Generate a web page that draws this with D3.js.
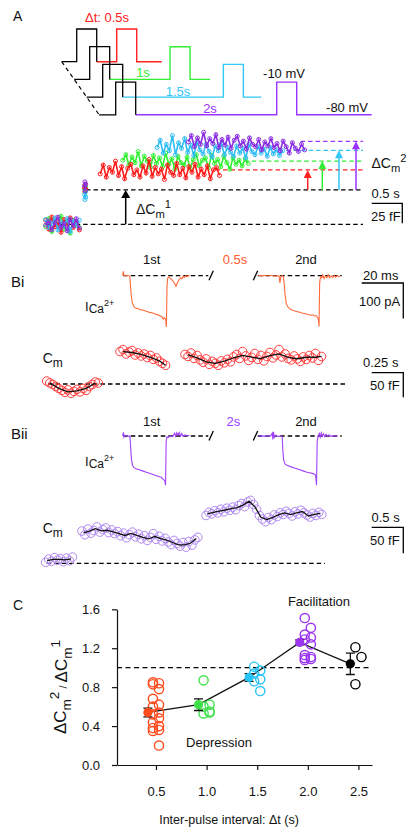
<!DOCTYPE html>
<html>
<head>
<meta charset="utf-8">
<script src="https://cdn.jsdelivr.net/npm/d3@7"></script>
<style>
  body { margin: 0; background: #fff; }
  text { font-family: "Liberation Sans", Arial, Helvetica, sans-serif; fill: #111; }
</style>
</head>
<body>
<div id="fig"></div>
<script>
// ---------- Data ----------
// Panel A: voltage protocol
const protoIntervals = [0.5, 1, 1.5, 2];            // s
const protoLabels = ['\u0394t: 0.5s', '1s', '1.5s', '2s'];

// Panel A: Cm traces (fF, relative to baseline)
const baseRedA = [5, -6, 9, -3, 2, -10, 6, -1, 8, -4, 3, -7];
const baseGreenA = [-3, 7, -9, 4, -1, 10, -6, 2, -11, 5, 0, -4];
const baseCyanA = [6, -4, 1, 8, -7, 3, -2, 7, -9, 4, -1, 5];
const basePurpleA = [-1, 4, -7, 2, 9, -4, 1, -8, 6, -2, 7, -5];
const blobRedA = [46, 41, 50, 44];
const blobGreenA = [44, 49, 40, 46];
const blobCyanA = [37, 31, 41, 34];
const blobPurpleA = [48, 53, 42, 50];
const stepRedA = [63, 74, 59, 71, 65, 79, 61, 72, 57, 70, 75, 62, 68, 59, 73, 64, 81, 60, 71, 63,
                  69, 56, 74, 65, 61, 76, 62, 70, 58, 72, 65, 75, 59, 69, 62, 73, 57, 68, 71, 61];
const stepGreenA = [80, 87, 74, 84, 77, 91, 73, 85, 79, 71, 86, 76, 83, 72, 89, 75, 82, 69, 85, 77, 74,
                    84, 70, 81, 87, 73, 80, 83, 71, 86, 76, 81, 72, 85, 77, 69, 83, 75, 80, 73, 82, 76];
const stepCyanA = [96, 105, 89, 100, 92, 111, 87, 102, 95, 107, 90, 99, 86, 103, 93, 88, 100, 91, 84, 98, 92,
                   101, 87, 96, 90, 85, 98, 89, 95, 83, 100, 91, 87, 97, 89, 94, 85, 96, 88, 93, 86, 92];
const stepPurpleA = [103, 111, 97, 108, 100, 115, 98, 107, 101, 112, 96, 106, 99, 109, 95, 105, 110, 98, 104, 94,
                     108, 100, 97, 106, 93, 103, 98, 107, 96, 101, 92, 104, 97, 89, 102, 95, 91, 100, 93];
const stepStartA = [0.89, 1.26, 1.82, 2.33];         // s
const firstStepA = 43;                               // fF
const secondLevelA = [68, 79, 92.5, 103.7];          // fF

// Panel B: calcium currents [ms, pA]
const iBi1 = [[0,0],[0.3,12],[0.6,2],[1.2,-1],[2,1],[2.8,0],[3.4,-1],[3.7,-25],[4.1,-55],[4.6,-75],[5.3,-86],[6,-90],
  [7,-92],[8,-94],[9,-96],[10,-97],[11,-99],[12,-101],[13,-103],[14,-104],[15,-106],[16,-108],[17,-110],[18,-113],
  [19,-116],[19.5,-122],[20,-118],[20.6,-121],[21,-144],[21.3,-30],[21.6,-8],[22,-3],[23,-8],[24,-14],[25,-22],
  [25.6,-30],[26.3,-20],[27,-12],[27.8,-6],[28.4,-9],[29,-2],[29.6,-5],[30.3,0],[31,-3],[31.6,1],[32.2,-1]];
const iBi2 = [[0,0],[1,1],[2,-1],[3,1],[4,0],[5,-1],[6,1],[7,0],[8,-1],[9,0],[10,-1],[10.4,-20],[10.8,-3],[11.5,0],
  [12,-1],[12.4,-20],[12.9,-55],[13.5,-80],[14.5,-90],[15.5,-94],[16.5,-97],[18,-100],[19.5,-102],[21,-105],
  [22.5,-107],[24,-109],[25,-111],[26,-110],[27,-113],[27.8,-112],[28.3,-117],[28.8,-120],[29.2,-143],[29.5,-20],
  [29.9,-3],[30.5,-6],[31,2],[31.6,-8],[32.2,-1],[33,-5],[33.6,3],[34.3,-6],[35,-1],[35.8,-5],[36.5,1],[37.2,-4],
  [38,0],[38.6,-3],[39.2,-1]];
const iBii1 = [[0,0],[0.3,10],[0.6,-3],[1,2],[2,0],[3,-1],[3.5,0],[3.8,-30],[4.2,-65],[4.7,-82],[5.4,-89],[6.5,-92],
  [8,-95],[9.5,-98],[11,-101],[12.5,-104],[14,-107],[15.5,-110],[17,-113],[18.5,-116],[19.5,-122],[20.2,-125],
  [20.6,-138],[20.9,-15],[21.3,-2],[22,-4],[23,1],[24,-2],[25,8],[25.5,-1],[26,9],[26.6,2],[27.2,10],[27.8,0],
  [28.4,7],[29,-1],[30,3],[31,0],[32,2]];
const iBii2 = [[0,0],[1.5,1],[3,-1],[4.5,1],[6,0],[6.7,8],[7,-10],[7.3,12],[7.7,-4],[8.2,2],[9,0],[10,-1],[11,0],
  [11.5,-2],[11.8,-40],[12.2,-68],[12.9,-79],[14,-83],[15.5,-86],[17,-89],[18.5,-92],[20,-95],[21.5,-98],[23,-101],
  [24.5,-103],[26,-105],[27.2,-108],[27.6,-112],[28,-138],[28.3,-15],[28.7,-2],[29.3,7],[29.8,-3],[30.3,9],
  [30.8,-1],[31.4,6],[32,-2],[32.6,5],[33.2,0],[34,3],[35,-1],[36,1],[37,0],[38,1]];

// Panel B: capacitance samples (fF)
const cmBi1 = [6, 2, -1, -5, -9, -13, -17, -12, -19, -15, -11, -16, -9, -13, -5, -1, 4, 2];
const cmBi2 = [66, 70, 61, 65, 68, 59, 63, 57, 61, 54, 58, 50, 53, 46, 42, 38];
const cmBi3 = [60, 56, 63, 52, 58, 49, 44, 51, 40, 46, 42, 38, 47, 43, 50, 45, 55, 60, 52, 66, 57, 48, 54,
               62, 50, 58, 47, 56, 64, 53, 59, 70, 55, 61, 52, 49, 57, 51, 46, 55, 50, 58, 53, 62, 48, 56];
const cmBiStart = [0, 0.58, 1.094];                  // s
const cmBii1 = [2, 8, 4, 11, 6, 9, 3, 10, 5, 12];
const cmBii2 = [62, 55, 66, 58, 63, 70, 60, 65, 68, 59, 64, 57, 61, 53, 58, 49, 55, 60, 51, 56,
                47, 53, 44, 50, 57, 46, 52, 43, 48, 41, 36, 44, 38, 33, 40, 31, 42, 35, 45, 50];
const cmBii3 = [92, 98, 95, 101, 97, 104, 99, 106, 102, 108, 103, 111, 115, 109, 118, 121, 113, 104, 92, 85,
                80, 88, 84, 93, 90, 97, 94, 100, 96, 91, 99, 95, 102, 97, 93, 89, 96, 92, 98, 94];
const cmBiiStart = [0, 0.574, 2.536];                // s

// Panel C: paired-pulse ratio
const intervals = [0.5, 1.0, 1.5, 2.0, 2.5];
const ratioMeans = [0.54, 0.62, 0.90, 1.26, 1.04];
const ratioSem = [0.045, 0.06, 0.04, 0.025, 0.11];
const ratio05 = [0.85, 0.84, 0.83, 0.78, 0.68, 0.62, 0.60, 0.54, 0.52, 0.48, 0.44, 0.40, 0.38, 0.36, 0.35, 0.20];
const ratio10 = [0.87, 0.62, 0.60, 0.54, 0.53, 0.55];
const ratio15 = [1.01, 0.97, 0.94, 0.88, 0.86, 0.76];
const ratio20 = [1.51, 1.41, 1.34, 1.31, 1.29, 1.24, 1.13, 1.11, 1.10, 1.09, 1.08];
const ratio25 = [1.21, 1.11, 0.83];
const yTicksC = [0, 0.4, 0.8, 1.2, 1.6];

// ---------- Setup ----------
const W = 406, H = 831;
const svg = d3.select('#fig').append('svg').attr('width', W).attr('height', H);
const protoColors = ['#ff2020', '#33ee33', '#33c6f7', '#9933ff'];
const traceColors = ['#ff1a1a', '#2ef02e', '#2ebcf5', '#8a2be2'];
const cColors = ['#ff4a1c', '#3ee04a', '#29c3f5', '#9b35f0', '#000'];
const line = d3.line();

function txt(x, y, s, size, opts = {}) {
    return svg.append('text').attr('x', x).attr('y', y).attr('font-size', size)
        .attr('text-anchor', opts.anchor || 'start')
        .style('fill', opts.color || '#111')
        .text(s);
}

function dashed(x1, x2, y, color = '#000') {
    svg.append('line').attr('x1', x1).attr('x2', x2).attr('y1', y).attr('y2', y)
        .attr('stroke', color).attr('stroke-width', 1.3).attr('stroke-dasharray', '4.5,3');
}

// ΔCm with subscript m and a superscript
function deltaCm(sel, sup, fs) {
    sel.append('tspan').text('\u0394C');
    sel.append('tspan').attr('font-size', fs * 0.8).attr('dy', fs * 0.3).text('m');
    sel.append('tspan').attr('font-size', fs * 0.8).attr('dy', -fs * 0.72).text(sup);
}

function scaleBar(x1, x2, y, y2) {
    svg.append('path').attr('d', `M${x1},${y}H${x2}V${y2}`)
        .attr('fill', 'none').attr('stroke', '#000').attr('stroke-width', 1.3);
}

function arrow(x, y1, y2, color, w) {
    svg.append('line').attr('x1', x).attr('x2', x).attr('y1', y1).attr('y2', y2 + 6)
        .attr('stroke', color).attr('stroke-width', 1.5);
    svg.append('path').attr('d', `M${x - w / 2},${y2 + 8}L${x},${y2}L${x + w / 2},${y2 + 8}Z`)
        .attr('fill', color);
}

// ---------- Panel A: protocol ----------
txt(13, 21, 'A', 14);
const gapX = d3.scaleLinear().domain([0.5, 2]).range([20, 141]);
const tailLen = [25, 20, 18, 75];
protoIntervals.forEach((dt, i) => {
    const base = 61.7 + i * 17.7;
    const top = base - 32.7;
    const start = 61.7 + i * 12.5;
    const p1 = 76.7 + i * 13;
    const p2 = p1 + 20 + gapX(dt);
    svg.append('path')
        .attr('d', line([[p1 + 20, base], [p2, base], [p2, top], [p2 + 20, top], [p2 + 20, base], [p2 + 20 + tailLen[i], base]]))
        .attr('fill', 'none').attr('stroke', protoColors[i]).attr('stroke-width', 1.4);
    svg.append('path')
        .attr('d', line([[start, base], [p1, base], [p1, top], [p1 + 20, top], [p1 + 20, base]]))
        .attr('fill', 'none').attr('stroke', '#000').attr('stroke-width', 1.3);
});
svg.append('line').attr('x1', 61.7).attr('y1', 61.7).attr('x2', 99.3).attr('y2', 115)
    .attr('stroke', '#000').attr('stroke-width', 1.2).attr('stroke-dasharray', '4,3.5');
txt(85, 21.5, protoLabels[0], 13, { color: protoColors[0] });
txt(143, 77.3, protoLabels[1], 13, { anchor: 'middle', color: protoColors[1] });
txt(178, 95.5, protoLabels[2], 13, { anchor: 'middle', color: protoColors[2] });
txt(210, 112.7, protoLabels[3], 13, { anchor: 'middle', color: protoColors[3] });
txt(284, 78.3, '-10 mV', 13, { anchor: 'middle' });
txt(347, 112.3, '-80 mV', 13, { anchor: 'middle' });

// ---------- Panel A: Cm steps ----------
const xA = d3.scaleLinear().domain([0, 1]).range([45.7, 106.9]);   // s
const yA = d3.scaleLinear().domain([0, 25]).range([224.3, 204.3]); // fF
const tracesA = [
    { base: baseRedA, blob: blobRedA, step: stepRedA },
    { base: baseGreenA, blob: blobGreenA, step: stepGreenA },
    { base: baseCyanA, blob: blobCyanA, step: stepCyanA },
    { base: basePurpleA, blob: blobPurpleA, step: stepPurpleA }
];

// dashed reference levels first
dashed(45.7, 363, yA(0));
dashed(86, 363, yA(firstStepA));
secondLevelA.forEach((lv, i) => {
    const tEnd = stepStartA[i] + (tracesA[i].step.length - 1) * 0.05;
    dashed(xA(tEnd) - 4, 363, yA(lv), protoColors[i]);
});

function noisyTrace(vals, t0, dt, color) {
    const pts = vals.map((v, k) => [xA(t0 + k * dt), yA(v)]);
    svg.append('path').attr('d', line(pts)).attr('fill', 'none')
        .attr('stroke', color).attr('stroke-width', 1.6);
    svg.append('g').selectAll('circle').data(pts).join('circle')
        .attr('cx', d => d[0]).attr('cy', d => d[1]).attr('r', 2)
        .attr('fill', 'none').attr('stroke', color).attr('stroke-width', 1);
}
const drawOrder = [1, 0, 2, 3];
drawOrder.forEach(i => noisyTrace(tracesA[i].base, 0, 0.05, traceColors[i]));
drawOrder.forEach(i => noisyTrace(tracesA[i].blob, 0.635, 0.006, traceColors[i]));
drawOrder.forEach(i => noisyTrace(tracesA[i].step, stepStartA[i], 0.05, traceColors[i]));

// arrows
arrow(125.7, yA(0), yA(firstStepA), '#000', 9);
const arrowX = [307.7, 322.3, 339, 356];
secondLevelA.forEach((lv, i) => arrow(arrowX[i], yA(firstStepA), yA(lv), protoColors[i], 8));

deltaCm(svg.append('text').attr('x', 136).attr('y', 214).attr('font-size', 14), '1', 14);
deltaCm(svg.append('text').attr('x', 371.5).attr('y', 168).attr('font-size', 14), '2', 14);

txt(371.5, 198, '0.5 s', 13);
scaleBar(371.7, 371.7 + xA(0.5) - xA(0), 203.3, 203.3 + yA(0) - yA(25));
txt(371, 220.7, '25 fF', 13);

// ---------- Panel B helpers ----------
const xMs = d3.scaleLinear().domain([0, 20]).range([0, 41.6]);
function currentTrace(data, x0, y0, color) {
    const yI = d3.scaleLinear().domain([0, -100]).range([y0, y0 + 35.6]);
    svg.append('path').attr('d', line(data.map(d => [x0 + xMs(d[0]), yI(d[1])])))
        .attr('fill', 'none').attr('stroke', color).attr('stroke-width', 1.1);
}
function breakMarks(y) {
    dashed(123.3, 208.3, y);
    dashed(257.7, 341.7, y);
    [[209, 213.3], [253.3, 257.7]].forEach(([a, b]) => {
        svg.append('line').attr('x1', a).attr('y1', y + 4.5).attr('x2', b).attr('y2', y - 5)
            .attr('stroke', '#000').attr('stroke-width', 1.3);
    });
}
function iCaLabel(x, y) {
    const t = svg.append('text').attr('x', x).attr('y', y).attr('font-size', 13);
    t.append('tspan').text('I');
    t.append('tspan').attr('font-size', 12).attr('dy', 2.5).text('Ca');
    t.append('tspan').attr('font-size', 9).attr('dy', -7.5).text('2+');
}
function cmLabel(x, y) {
    const t = svg.append('text').attr('x', x).attr('y', y).attr('font-size', 14);
    t.append('tspan').text('C');
    t.append('tspan').attr('font-size', 12).attr('dy', 4).text('m');
}
function blockMean(vals, n) {
    const out = [];
    for (let i = 0; i < vals.length; i += n) {
        const s = vals.slice(i, i + n);
        out.push([i + (s.length - 1) / 2, d3.mean(s)]);
    }
    return out;
}
function cmClusters(clusters, starts, dt, xS, yS, color, block) {
    clusters.forEach((vals, c) => {
        svg.append('g').selectAll('circle').data(vals).join('circle')
            .attr('cx', (d, k) => xS(starts[c] + k * dt)).attr('cy', d => yS(d)).attr('r', 4.3)
            .attr('fill', 'none').attr('stroke', color).attr('stroke-width', 1);
    });
    clusters.forEach((vals, c) => {
        const m = blockMean(vals, block).map(d => [xS(starts[c] + d[0] * dt), yS(d[1])]);
        svg.append('path').attr('d', line(m)).attr('fill', 'none')
            .attr('stroke', '#111').attr('stroke-width', 1.3);
    });
}

// ---------- Panel Bi ----------
txt(11, 287, 'Bi', 15);
txt(151.7, 264, '1st', 13, { anchor: 'middle' });
txt(235, 264, '0.5s', 13, { anchor: 'middle', color: '#ff5a2a' });
txt(306, 264, '2nd', 13, { anchor: 'middle' });
breakMarks(275.7);
currentTrace(iBi1, 122.7, 275.7, '#ff6a3a');
currentTrace(iBi2, 258.3, 275.7, '#ff6a3a');
iCaLabel(85, 310.7);
txt(363, 279.5, '20 ms', 13);
scaleBar(361.7, 361.7 + xMs(20), 283, 283 + 35.6);
txt(359, 306, '100 pA', 13);

const xBi = d3.scaleLinear().domain([0, 0.25]).range([46.7, 78.3]);
const yBi = d3.scaleLinear().domain([0, 50]).range([384, 359.4]);
cmLabel(42.7, 362.7);
dashed(48, 346.7, yBi(0));
cmClusters([cmBi1, cmBi2, cmBi3], cmBiStart, 0.024, xBi, yBi, '#ff3b3b', 3);
txt(363, 366.7, '0.25 s', 13);
scaleBar(371.7, 371.7 + xBi(0.25) - xBi(0), 372.7, 372.7 + yBi(0) - yBi(50));
txt(370, 390, '50 fF', 13);

// ---------- Panel Bii ----------
txt(11, 439, 'Bii', 15);
txt(151.7, 425.5, '1st', 13, { anchor: 'middle' });
txt(233.3, 425.5, '2s', 13, { anchor: 'middle', color: '#a040ff' });
txt(306, 425.5, '2nd', 13, { anchor: 'middle' });
breakMarks(436);
currentTrace(iBii1, 122.7, 436, '#a040ff');
currentTrace(iBii2, 258.3, 436, '#a040ff');
iCaLabel(85, 465.5);

const xBii = d3.scaleLinear().domain([0, 0.5]).range([45.7, 77.3]);
const yBii = d3.scaleLinear().domain([0, 50]).range([563.3, 537.3]);
cmLabel(42.7, 533);
dashed(46.7, 325, yBii(0));
cmClusters([cmBii1, cmBii2, cmBii3], cmBiiStart, 0.047, xBii, yBii, '#b088f2', 2);
txt(371.5, 521.7, '0.5 s', 13);
scaleBar(371.7, 371.7 + xBii(0.5) - xBii(0), 527.3, 527.3 + yBii(0) - yBii(50));
txt(370, 545, '50 fF', 13);

// ---------- Panel C ----------
txt(13, 610, 'C', 14);
const xC = d3.scaleLinear().domain([0.115, 2.634]).range([117, 372]);
const yC = d3.scaleLinear().domain([0, 1.6]).range([765, 609.3]);

const yAxis = d3.axisLeft(yC).tickValues(yTicksC).tickFormat(d3.format('.1f'))
    .tickSize(5).tickSizeOuter(0).tickPadding(12);
const xAxis = d3.axisBottom(xC).tickValues(intervals).tickFormat(d3.format('.1f'))
    .tickSize(5).tickSizeOuter(0).tickPadding(17);
const gy = svg.append('g').attr('transform', `translate(${xC.range()[0]},0)`).call(yAxis);
const gx = svg.append('g').attr('transform', `translate(0,${yC.range()[0]})`).call(xAxis);
[gx, gy].forEach(g => {
    g.attr('font-size', 13).attr('font-family', null);
    g.selectAll('path, line').attr('stroke', '#111').attr('stroke-width', 1.2);
    g.selectAll('text').style('fill', '#111');
});

svg.append('line').attr('x1', xC.range()[0]).attr('x2', 369).attr('y1', yC(1)).attr('y2', yC(1))
    .attr('stroke', '#000').attr('stroke-width', 1.3).attr('stroke-dasharray', '5,3.5');

// mean line
const meanOffset = -0.08;
svg.append('path')
    .attr('d', line(intervals.map((x, i) => [xC(x + meanOffset), yC(ratioMeans[i])])))
    .attr('fill', 'none').attr('stroke', '#111').attr('stroke-width', 1.3);

// individual cells
[ratio05, ratio10, ratio15, ratio20, ratio25].forEach((vals, i) => {
    svg.append('g').selectAll('circle').data(vals).join('circle')
        .attr('cx', (d, k) => xC(intervals[i] + (k % 2 ? 0.03 : -0.03)))
        .attr('cy', d => yC(d)).attr('r', 4.6)
        .attr('fill', 'none').attr('stroke', cColors[i]).attr('stroke-width', 1.4);
});

// error bars + means
intervals.forEach((x, i) => {
    const cx = xC(x + meanOffset);
    const lo = yC(ratioMeans[i] - ratioSem[i]), hi = yC(ratioMeans[i] + ratioSem[i]);
    svg.append('path').attr('d', `M${cx},${lo}V${hi}M${cx - 4.5},${lo}H${cx + 4.5}M${cx - 4.5},${hi}H${cx + 4.5}`)
        .attr('stroke', '#111').attr('stroke-width', 1.3).attr('fill', 'none');
    svg.append('circle').attr('cx', cx).attr('cy', yC(ratioMeans[i])).attr('r', 4.6)
        .attr('fill', cColors[i]);
});

txt(319, 606, 'Facilitation', 13, { anchor: 'middle' });
txt(219, 747, 'Depression', 13, { anchor: 'middle' });
txt(229, 824, 'Inter-pulse interval: \u0394t (s)', 12.5, { anchor: 'middle' });

// y label (rotated)
const yl = svg.append('text').attr('transform', 'translate(66,687) rotate(-90)')
    .attr('text-anchor', 'middle').attr('font-size', 17);
deltaCm(yl, '2', 17);
yl.append('tspan').attr('font-size', 11).attr('dy', 8).text(' / ');
deltaCm(yl, '1', 17);
</script>
</body>
</html>
